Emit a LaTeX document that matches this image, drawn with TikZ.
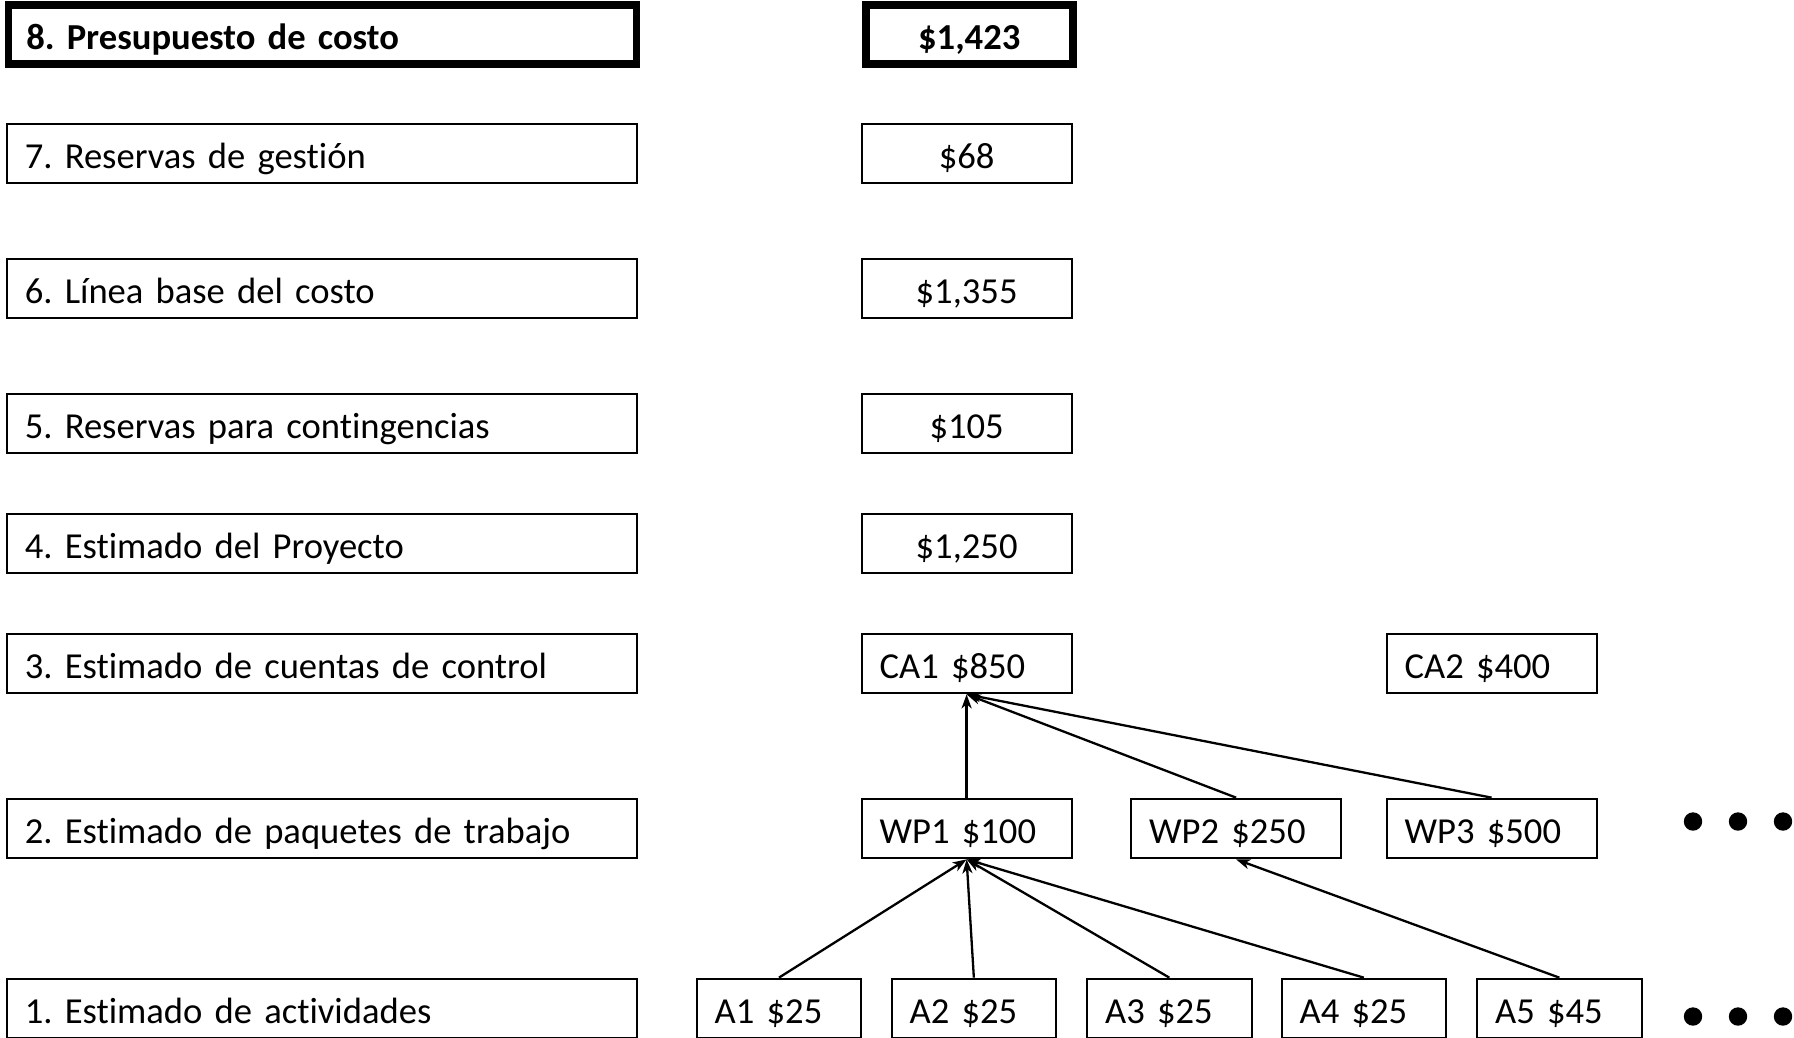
\documentclass[tikz,border=0pt]{standalone}
\usepackage{fontspec}
\setmainfont{Carlito}[Ligatures=NoCommon, WordSpace=0.82]
\usetikzlibrary{arrows.meta}
\frenchspacing
\tikzset{
  box/.style={draw, line width=2.2pt, minimum height=59.5pt, inner xsep=18pt, inner ysep=0pt,
    text height=30pt, text depth=1pt,
    anchor=west, font=\fontsize{36.6}{44}\selectfont\frenchspacing, align=left},
  lbox/.style={box, text width=594pt},
  vbox/.style={box, text width=174pt, align=center},
  wbox/.style={box, text width=174pt},
  abox/.style={box, text width=128.5pt},
  thick box/.style={line width=7.5pt, font=\fontsize{36.6}{44}\selectfont\bfseries\frenchspacing},
  arr/.style={line width=2.3pt, -{Stealth[length=14pt,width=10pt,inset=4pt]}},
  dot/.style={fill=black}
}
\begin{document}
\begin{tikzpicture}[x=1pt,y=-1pt]
\useasboundingbox (0,0) rectangle (1794,1037);
% left column
\node[lbox, thick box, text width=592pt, minimum height=59pt] (l8) at (4.5,34.5) {8. Presupuesto de costo};
\node[lbox] (l7) at (5.7,153.5) {7. Reservas de gestión};
\node[lbox] (l6) at (5.7,288.5) {6. Línea base del costo};
\node[lbox] (l5) at (5.7,423.5) {5. Reservas para contingencias};
\node[lbox] (l4) at (5.7,543.5) {4. Estimado del Proyecto};
\node[lbox] (l3) at (5.7,663.5) {3. Estimado de cuentas de control};
\node[lbox] (l2) at (5.7,828.5) {2. Estimado de paquetes de trabajo};
\node[lbox] (l1) at (5.7,1008.5) {1. Estimado de actividades};
% values
\node[vbox, thick box, text width=171pt, minimum height=59pt] (v8) at (862,34.5) {\$1,423};
\node[vbox] (v7) at (860.5,153.5) {\$68};
\node[vbox] (v6) at (860.5,288.5) {\$1,355};
\node[vbox] (v5) at (860.5,423.5) {\$105};
\node[vbox] (v4) at (860.5,543.5) {\$1,250};
\node[wbox] (ca1) at (860.5,663.5) {CA1 \$850};
\node[wbox] (ca2) at (1385.5,663.5) {CA2 \$400};
\node[wbox] (wp1) at (860.5,828.5) {WP1 \$100};
\node[wbox] (wp2) at (1130,828.5) {WP2 \$250};
\node[wbox] (wp3) at (1385.5,828.5) {WP3 \$500};
\node[abox] (a1) at (695.6,1008.5) {A1 \$25};
\node[abox] (a2) at (890.5,1008.5) {A2 \$25};
\node[abox] (a3) at (1086,1008.5) {A3 \$25};
\node[abox] (a4) at (1280.5,1008.5) {A4 \$25};
\node[abox] (a5) at (1476,1008.5) {A5 \$45};
% connectors
\draw[arr] (wp1.north) -- (ca1.south);
\draw[arr] (wp2.north) -- (ca1.south);
\draw[arr] (wp3.north) -- (ca1.south);
\draw[arr] (a1.north) -- (wp1.south);
\draw[arr] (a2.north) -- (wp1.south);
\draw[arr] (a3.north) -- (wp1.south);
\draw[arr] (a4.north) -- (wp1.south);
\draw[arr] (a5.north) -- (wp2.south);
% ellipsis dots
\foreach \xx in {1693,1738,1783}{
  \fill[dot] (\xx,821.5) circle (9.2pt);
  \fill[dot] (\xx,1016.5) circle (9.2pt);
}
\end{tikzpicture}
\end{document}
